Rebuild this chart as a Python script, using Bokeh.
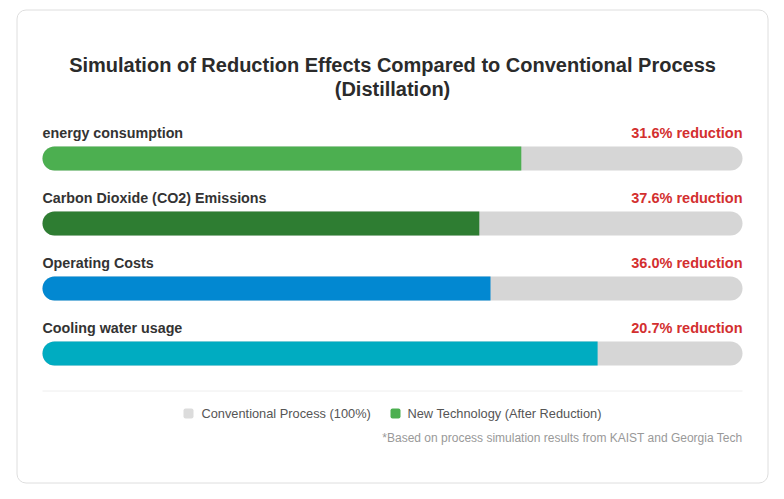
from bokeh.plotting import figure
from bokeh.models import Range1d, ColumnDataSource
from bokeh.core.properties import value
from bokeh.embed import file_html
from bokeh.resources import INLINE

# ---- data ----
categories = ["energy consumption", "Carbon Dioxide (CO2) Emissions", "Operating Costs", "Cooling water usage"]
reductions = [31.6, 37.6, 36.0, 20.7]
conventional = [100, 100, 100, 100]
bar_colors = ["#4caf50", "#2e7d32", "#0288d1", "#00acc1"]
title_lines = ["Simulation of Reduction Effects Compared to Conventional Process", "(Distillation)"]
legend_labels = ["Conventional Process (100%)", "New Technology (After Reduction)"]
legend_colors = ["#dcdcdc", "#4caf50"]
footnote = "*Based on process simulation results from KAIST and Georgia Tech"

W, H = 784, 499
FONT = value("Liberation Sans")

def px(x):
    # pixel x -> percent-unit coordinate (0% at 42px, 100% at 742px)
    return x / 7.0 - 6.0

p = figure(width=W, height=H, output_backend="svg", toolbar_location=None,
           x_range=Range1d(px(0), px(W)), y_range=Range1d(H, 0),
           x_axis_location=None, y_axis_location=None, min_border=0)
p.grid.visible = False
p.outline_line_color = None
p.background_fill_color = "white"
p.border_fill_color = "white"

# card
p.quad(left=[px(16.5)], right=[px(767.5)], top=[9.5], bottom=[482.5],
       fill_color="white", line_color="#dedede", line_width=1, border_radius=9)

# title
p.text(x=[px(392)] * 2, y=[64, 88], text=title_lines, text_font=FONT,
       text_font_style="bold", text_font_size="20px", text_color="#2b2b2b",
       text_align="center", text_baseline="middle")

n = len(categories)
new_vals = [round(c - r, 1) for c, r in zip(conventional, reductions)]
label_y = [132.5 + 65 * i for i in range(n)]
bar_y = [158 + 65 * i for i in range(n)]

src = ColumnDataSource(dict(cat=categories, conv=conventional, new=new_vals,
                            red=[f"{r:.1f}% reduction" for r in reductions],
                            color=bar_colors, ly=label_y, by=bar_y,
                            zero=[0] * n))

p.hbar(y="by", left="zero", right="conv", height=24, source=src,
       fill_color="#d6d6d6", line_color=None, border_radius=12)
p.hbar(y="by", left="zero", right="new", height=24, source=src,
       fill_color="color", line_color=None, border_radius=(12, 0, 0, 12))

p.text(x="zero", y="ly", text="cat", source=src, text_font=FONT, text_font_style="bold",
       text_font_size="14.3px", text_color="#333333", text_align="left", text_baseline="middle")
p.text(x="conv", y="ly", text="red", source=src, text_font=FONT, text_font_style="bold",
       text_font_size="14.5px", text_color="#d32f2f", text_align="right", text_baseline="middle")

# separator
p.segment(x0=[0], x1=[100], y0=[390.5], y1=[390.5], line_color="#eeeeee", line_width=1)

# legend
leg_sq_x = [px(188), px(395)]
leg_tx_x = [px(201), px(407)]
p.rect(x=leg_sq_x, y=[413, 413], width=10 / 7.0, height=10, fill_color=legend_colors,
       line_color=None, border_radius=2)
p.text(x=leg_tx_x, y=[413, 413], text=legend_labels, text_font=FONT, text_font_size="12.8px",
       text_color="#555555", text_align="left", text_baseline="middle")

# footnote
p.text(x=[100], y=[437], text=[footnote], text_font=FONT, text_font_size="12px",
       text_color="#999999", text_align="right", text_baseline="middle")

open("out.html", "w").write(file_html(p, INLINE))
